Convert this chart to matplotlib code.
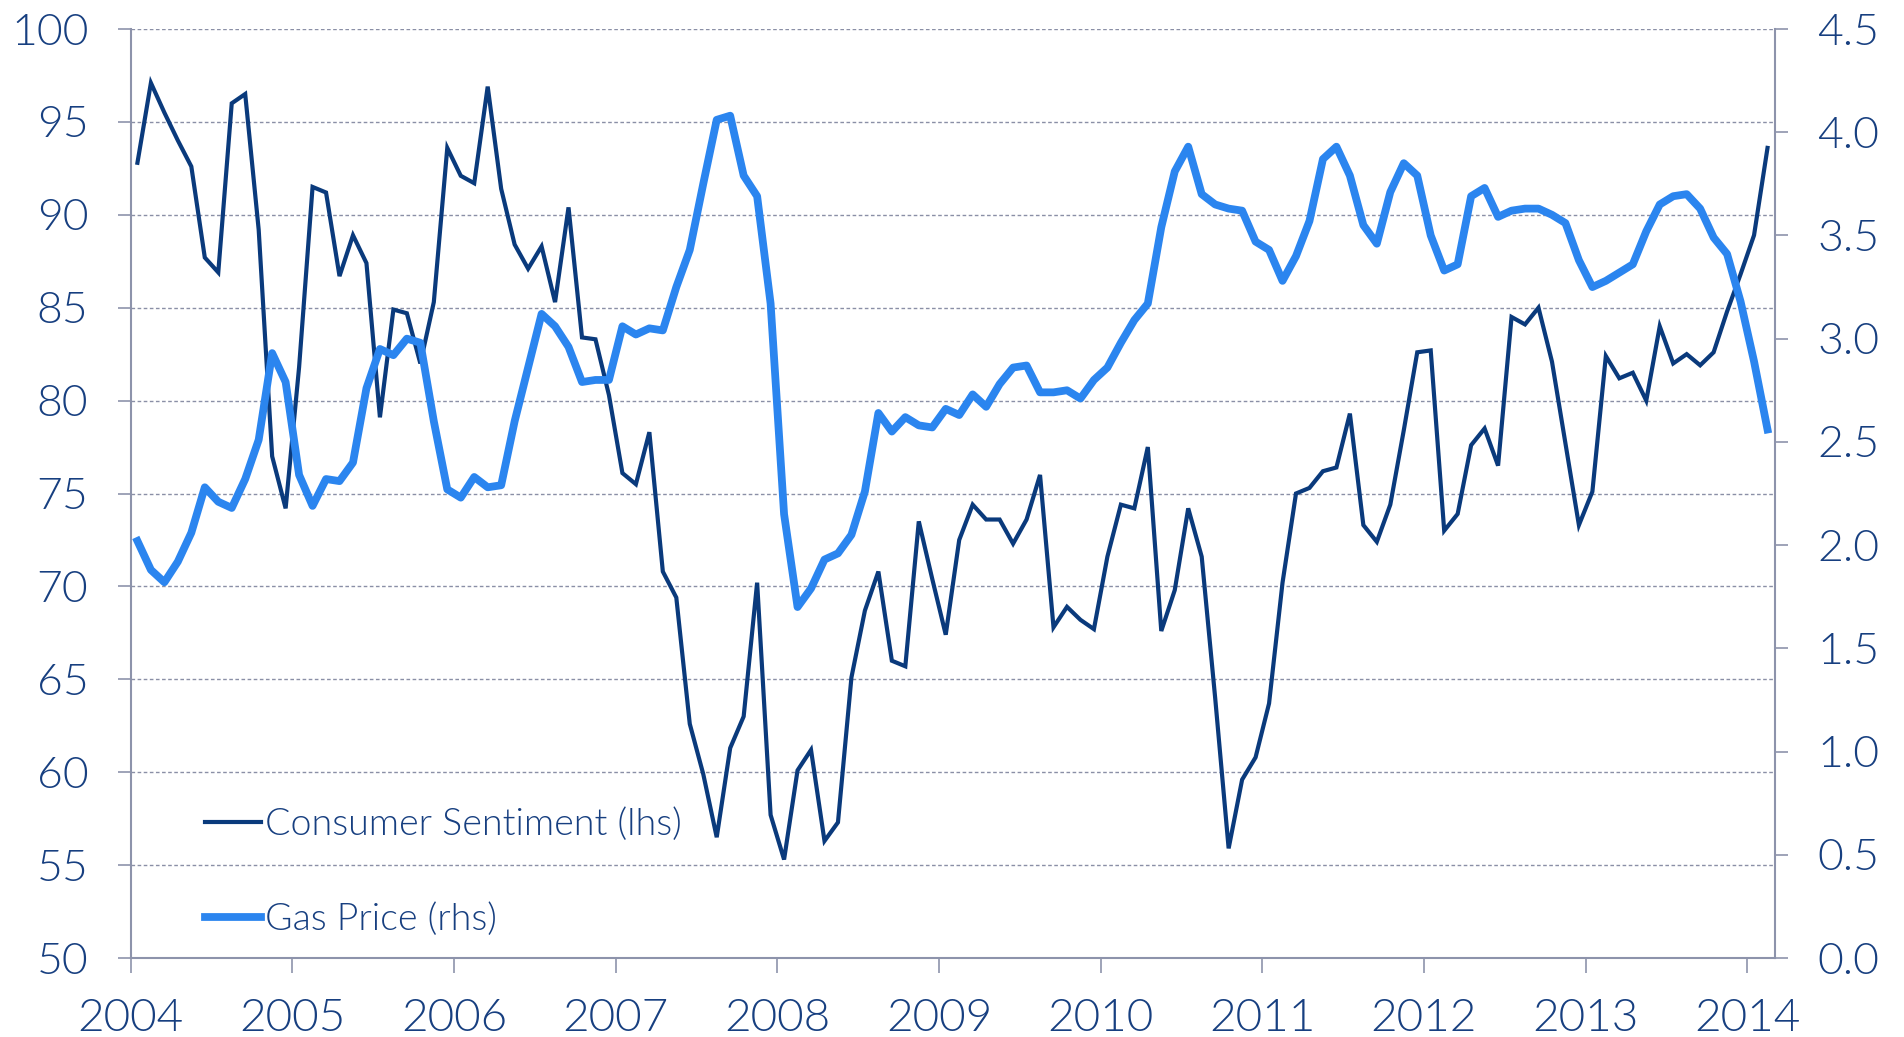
import numpy as np
import matplotlib
matplotlib.use("Agg")
import matplotlib.pyplot as plt
from matplotlib.lines import Line2D

plt.rcParams['font.family'] = ['Lato', 'DejaVu Sans']
plt.rcParams['font.weight'] = 300

start_year = 2004
years = list(range(2004, 2015))

sentiment = [92.8, 97.1, 95.5, 94.0, 92.6, 87.7, 86.9, 96.0, 96.5, 89.2, 77.0, 74.2,
             81.8, 91.5, 91.2, 86.7, 88.9, 87.4, 79.1, 84.9, 84.7, 82.0, 85.3, 93.6,
             92.1, 91.7, 96.9, 91.4, 88.4, 87.1, 88.3, 85.3, 90.4, 83.4, 83.3, 80.3,
             76.1, 75.5, 78.3, 70.8, 69.4, 62.6, 59.9, 56.5, 61.3, 63.0, 70.2, 57.7,
             55.3, 60.1, 61.2, 56.3, 57.3, 65.1, 68.7, 70.8, 66.0, 65.7, 73.5, 70.4,
             67.4, 72.5, 74.4, 73.6, 73.6, 72.3, 73.6, 76.0, 67.8, 68.9, 68.2, 67.7,
             71.6, 74.4, 74.2, 77.5, 67.6, 69.8, 74.2, 71.6, 64.0, 55.9, 59.6, 60.8,
             63.7, 70.2, 75.0, 75.3, 76.2, 76.4, 79.3, 73.3, 72.4, 74.4, 78.4, 82.6,
             82.7, 73.0, 73.9, 77.6, 78.5, 76.5, 84.5, 84.1, 85.0, 82.1, 77.7, 73.3,
             75.1, 82.4, 81.2, 81.5, 80.0, 84.0, 82.0, 82.5, 81.9, 82.6, 84.8, 86.8,
             88.9, 93.6]

gas_price = [2.02, 1.88, 1.82, 1.92, 2.06, 2.28, 2.21, 2.18, 2.32, 2.51, 2.93, 2.79,
             2.34, 2.19, 2.32, 2.31, 2.40, 2.76, 2.95, 2.92, 3.00, 2.98, 2.60, 2.27,
             2.23, 2.33, 2.28, 2.29, 2.60, 2.86, 3.12, 3.06, 2.96, 2.79, 2.80, 2.80,
             3.06, 3.02, 3.05, 3.04, 3.25, 3.43, 3.75, 4.06, 4.08, 3.79, 3.69, 3.17,
             2.15, 1.70, 1.79, 1.93, 1.96, 2.05, 2.26, 2.64, 2.55, 2.62, 2.58, 2.57,
             2.66, 2.63, 2.73, 2.67, 2.78, 2.86, 2.87, 2.74, 2.74, 2.75, 2.71, 2.80,
             2.86, 2.98, 3.09, 3.17, 3.54, 3.81, 3.93, 3.70, 3.65, 3.63, 3.62, 3.47,
             3.43, 3.28, 3.40, 3.57, 3.87, 3.93, 3.79, 3.55, 3.46, 3.71, 3.85, 3.79,
             3.50, 3.33, 3.36, 3.69, 3.73, 3.59, 3.62, 3.63, 3.63, 3.60, 3.56, 3.38,
             3.25, 3.28, 3.32, 3.36, 3.52, 3.65, 3.69, 3.70, 3.63, 3.49, 3.41, 3.18,
             2.89, 2.56]

left_ticks = list(range(50, 101, 5))
right_ticks = [0.0, 0.5, 1.0, 1.5, 2.0, 2.5, 3.0, 3.5, 4.0, 4.5]
labels = ["Consumer Sentiment (lhs)", "Gas Price (rhs)"]

# mid-month positions in decimal years
n = len(sentiment)
x = start_year + (np.arange(n) + 0.5) / 12.0

NAVY = '#0a3a7c'
LIGHT = '#2b85ef'
TXT = '#173f80'
AXC = '#8d93ab'
GRID = '#8a8fa6'

fig = plt.figure(figsize=(19.04, 10.37), dpi=100)
ax = fig.add_axes([130.7/1904, 1 - 958/1037, (1775 - 130.7)/1904, (958 - 29)/1037])
ax2 = ax.twinx()

ax.plot(x, sentiment, color=NAVY, lw=3.0, solid_joinstyle='miter', zorder=3)
ax2.plot(x, gas_price, color=LIGHT, lw=5.6, solid_joinstyle='round', zorder=3)

ax.set_xlim(2004, 2004 + (1775 - 130.7) / 161.66)
ax.set_ylim(50, 100)
ax2.set_ylim(0, 4.5)

ax.set_yticks(left_ticks)
ax.set_yticklabels([str(t) for t in left_ticks])
ax2.set_yticks(right_ticks)
ax2.set_yticklabels([f"{t:.1f}" for t in right_ticks])
ax.set_xticks(years)
ax.set_xticklabels([str(y) for y in years])

ax.grid(axis='y', color=GRID, linestyle=(0, (2.6, 1.8)), linewidth=1.0)
ax.set_axisbelow(True)

for s in ['top', 'right']:
    ax.spines[s].set_visible(False)
for s in ['left', 'bottom']:
    ax.spines[s].set_color(AXC)
    ax.spines[s].set_linewidth(1.5)
for s in ['top', 'bottom', 'left']:
    ax2.spines[s].set_visible(False)
ax2.spines['right'].set_color(AXC)
ax2.spines['right'].set_linewidth(1.5)

ax.tick_params(axis='y', direction='out', length=9.5, width=1.2, color=AXC,
               labelsize=32, labelcolor=TXT, pad=21)
ax2.tick_params(axis='y', direction='out', length=9.5, width=1.2, color=AXC,
                labelsize=32, labelcolor=TXT, pad=21)
ax.tick_params(axis='x', direction='out', length=11, width=1.2, color=AXC,
               labelsize=33, labelcolor=TXT, pad=18)
for lab in ax.get_xticklabels() + ax.get_yticklabels() + ax2.get_yticklabels():
    lab.set_fontweight(300)

handles = [Line2D([], [], color=NAVY, lw=3.0), Line2D([], [], color=LIGHT, lw=5.6)]
leg = ax2.legend(handles, labels, loc='upper left',
                 bbox_to_anchor=(205/1904, 1 - 808/1037), bbox_transform=fig.transFigure,
                 frameon=False, prop={'size': 27, 'weight': 300},
                 handlelength=1.5, handletextpad=0.1,
                 labelspacing=1.64, borderpad=0, borderaxespad=0)
for t in leg.get_texts():
    t.set_color(TXT)

fig.savefig('out.png', dpi=100)
